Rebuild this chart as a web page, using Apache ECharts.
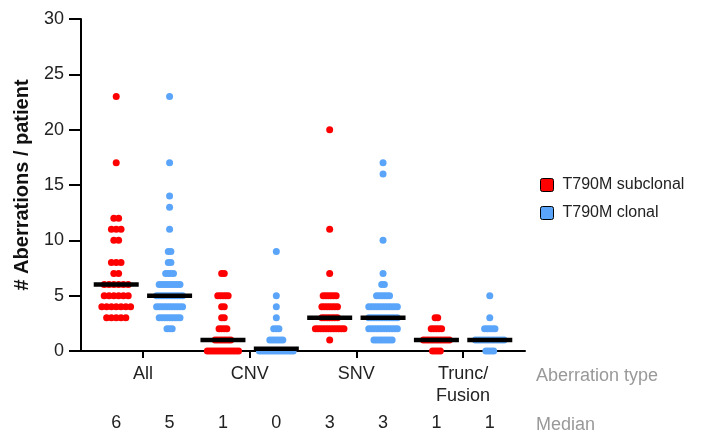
<!DOCTYPE html>
<html><head><meta charset="utf-8">
<script src="https://cdn.jsdelivr.net/npm/echarts@6/dist/echarts.min.js"></script>
<style>html,body{margin:0;padding:0;background:#fff}#c{width:702px;height:434px}</style>
</head><body><div id="c"></div>
<script>
// ---- data ----
const groupLabels = ['All', 'CNV', 'SNV', 'Trunc/\nFusion'];
const seriesNames = ['T790M subclonal', 'T790M clonal'];
const medianLabels = ['6', '5', '1', '0', '3', '3', '1', '1'];
const medianBarY = [6, 5, 1, 0.2, 3, 3, 1, 1];

const allSubclonal = [23, 17, 12, 12, 11, 11, 11, 10, 10, 8, 8, 8, 7, 7, 6, 6, 6, 6, 6, 6, 5, 5, 5, 5, 5, 5, 4, 4, 4, 4, 4, 4, 4, 3, 3, 3, 3, 3];
const allClonal = [23, 17, 14, 13, 11, 9, 9, 8, 8, 7, 7, 7, 7, 6, 6, 6, 6, 6, 6, 6, 6, 6, 5, 5, 5, 5, 5, 5, 5, 5, 5, 5, 5, 4, 4, 4, 4, 4, 4, 4, 4, 4, 4, 4, 3, 3, 3, 3, 3, 3, 3, 3, 3, 2, 2, 2];
const cnvSubclonal = [7, 7, 5, 5, 5, 5, 5, 4, 4, 3, 3, 2, 2, 2, 2, 1, 1, 1, 1, 1, 1, 1, 0, 0, 0, 0, 0, 0, 0, 0, 0, 0, 0, 0, 0];
const cnvClonal = [9, 5, 4, 3, 2, 2, 2, 1, 1, 1, 1, 1, 1, 0, 0, 0, 0, 0, 0, 0, 0, 0, 0, 0, 0, 0, 0];
const snvSubclonal = [20, 11, 7, 5, 5, 5, 5, 5, 5, 4, 4, 4, 4, 4, 4, 4, 3, 3, 3, 3, 3, 3, 3, 2, 2, 2, 2, 2, 2, 2, 2, 2, 2, 2, 2, 1];
const snvClonal = [17, 16, 10, 7, 6, 6, 5, 5, 5, 5, 5, 5, 4, 4, 4, 4, 4, 4, 4, 4, 4, 4, 4, 4, 3, 3, 3, 3, 3, 3, 3, 3, 3, 3, 3, 3, 2, 2, 2, 2, 2, 2, 2, 2, 2, 2, 2, 2, 1, 1, 1, 1, 1, 1, 1, 1];
const truncSubclonal = [3, 3, 2, 2, 2, 2, 2, 1, 1, 1, 1, 1, 1, 1, 1, 1, 1, 1, 0, 0, 0, 0];
const truncClonal = [5, 3, 2, 2, 2, 2, 2, 1, 1, 1, 1, 1, 1, 1, 1, 1, 1, 1, 1, 0, 0, 0, 0];

const columns = [allSubclonal, allClonal, cnvSubclonal, cnvClonal, snvSubclonal, snvClonal, truncSubclonal, truncClonal];

// ---- layout / style ----
const X_MIN = -0.66, X_MAX = 7.66, GRID_LEFT = 81, GRID_RIGHT = 177, GRID_TOP = 19, GRID_BOTTOM = 81;
const pxPerUnit = (702 - GRID_LEFT - GRID_RIGHT) / (X_MAX - X_MIN);
const spacingPx = [4.8, 2.6, 2.6, 2.6, 2.6, 2.6, 2.6, 2.6];
const RED = '#ff0000', BLUE = '#5aa5fa';
const FONT = '"Liberation Sans", Arial, sans-serif';

function swarm(values, col) {
  const counts = new Map();
  values.forEach(v => counts.set(v, (counts.get(v) || 0) + 1));
  const out = [];
  counts.forEach((n, v) => {
    for (let j = 0; j < n; j++) {
      out.push([col + (j - (n - 1) / 2) * spacingPx[col] / pxPerUnit, v]);
    }
  });
  return out;
}

const redData = [], blueData = [];
columns.forEach((vals, i) => {
  const pts = swarm(vals, i);
  (i % 2 === 0 ? redData : blueData).push(...pts);
});
const medianData = medianBarY.map((v, i) => [i, v]);

const chart = echarts.init(document.getElementById('c'), null, { renderer: 'canvas' });
chart.setOption({
  animation: false,
  backgroundColor: '#fff',
  textStyle: { fontFamily: FONT },
  grid: { left: GRID_LEFT, right: GRID_RIGHT, top: GRID_TOP, bottom: GRID_BOTTOM, containLabel: false },
  legend: {
    data: seriesNames,
    orient: 'vertical',
    left: 535, top: 172,
    itemWidth: 13, itemHeight: 13, itemGap: 12,
    icon: 'path://M2,0 L11,0 Q13,0 13,2 L13,11 Q13,13 11,13 L2,13 Q0,13 0,11 L0,2 Q0,0 2,0 Z',
    itemStyle: { borderColor: '#000', borderWidth: 1 },
    textStyle: { fontSize: 16, color: '#222', fontFamily: FONT, padding: [0, 0, 0, 4] }
  },
  xAxis: [{
    type: 'value', min: X_MIN, max: X_MAX,
    splitLine: { show: false },
    axisLine: { show: true, onZero: false, lineStyle: { color: '#000', width: 2 } },
    axisTick: { show: true, customValues: [0.5, 2.5, 4.5, 6.5], length: 7, lineStyle: { color: '#000', width: 2 } },
    axisLabel: {
      customValues: [0.5, 2.5, 4.5, 6.5],
      formatter: v => groupLabels[Math.round((v - 0.5) / 2)],
      fontSize: 18, color: '#222', lineHeight: 22, margin: 12, fontFamily: FONT
    }
  }, {
    type: 'value', min: X_MIN, max: X_MAX, position: 'bottom',
    splitLine: { show: false },
    axisLine: { show: false, onZero: false }, axisTick: { show: false },
    axisLabel: {
      customValues: [0, 1, 2, 3, 4, 5, 6, 7],
      formatter: v => medianLabels[Math.round(v)],
      fontSize: 18, color: '#222', lineHeight: 22, margin: 61, fontFamily: FONT
    }
  }],
  yAxis: {
    type: 'value', min: 0, max: 30, interval: 5,
    name: '# Aberrations / patient', nameLocation: 'middle', nameGap: 49,
    nameTextStyle: { fontSize: 20, fontWeight: 'bold', color: '#111', fontFamily: FONT },
    splitLine: { show: false },
    axisLine: { show: true, onZero: false, lineStyle: { color: '#000', width: 2 } },
    axisTick: { show: true, length: 12, lineStyle: { color: '#000', width: 2 } },
    axisLabel: { fontSize: 18, color: '#222', margin: 17, fontFamily: FONT }
  },
  series: [{
    name: seriesNames[0], type: 'scatter', data: redData,
    symbol: 'circle', symbolSize: 7, itemStyle: { color: RED, opacity: 1 }, z: 2
  }, {
    name: seriesNames[1], type: 'scatter', data: blueData,
    symbol: 'circle', symbolSize: 7, itemStyle: { color: BLUE, opacity: 1 }, z: 2
  }, {
    name: 'median', type: 'scatter', data: medianData,
    symbol: 'rect', symbolSize: [45, 4.5], itemStyle: { color: '#000', opacity: 1 }, z: 3, silent: true
  }],
  graphic: [
    { type: 'text', x: 536, y: 376, style: { text: 'Aberration type', fontSize: 18, fill: '#999', fontFamily: FONT, verticalAlign: 'middle' } },
    { type: 'text', x: 536, y: 425, style: { text: 'Median', fontSize: 18, fill: '#999', fontFamily: FONT, verticalAlign: 'middle' } }
  ]
});
</script></body></html>
